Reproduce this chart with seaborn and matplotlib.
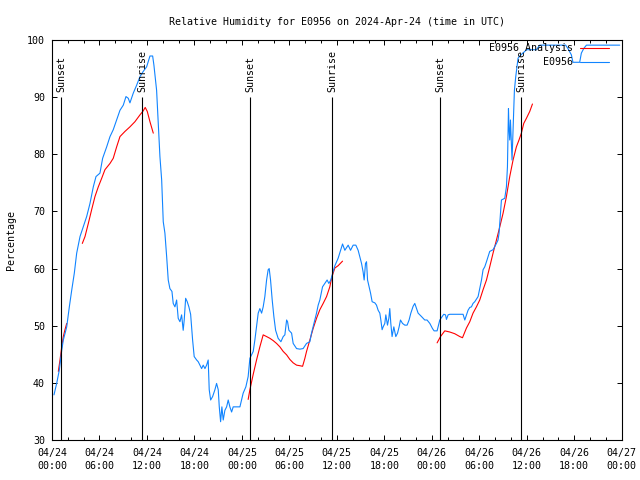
import pandas as pd
import matplotlib
matplotlib.use('Agg')
import matplotlib.pyplot as plt
import matplotlib.dates as mdates
from matplotlib.lines import Line2D
import seaborn as sns

START = pd.Timestamp('2024-04-24 00:00')
BLUE = '#1084ff'

# --- station observations (hours after 04/24 00:00 UTC, % RH) ---
obs_hours = [
    0.25, 0.59, 0.92, 1.23, 1.43, 1.86, 2.19, 2.49, 2.82, 3.12,
    3.54, 3.95, 4.38, 4.80, 5.22, 5.56, 6.06, 6.40, 6.91, 7.33,
    7.74, 8.17, 8.59, 9.01, 9.35, 9.64, 9.85, 10.27, 10.70, 11.12,
    11.53, 11.96, 12.38, 12.72, 12.88, 13.22, 13.43, 13.64, 13.86, 14.06,
    14.27, 14.49, 14.69, 14.90, 15.16, 15.32, 15.54, 15.75, 15.95, 16.17,
    16.38, 16.58, 16.71, 16.89, 17.09, 17.30, 17.52, 17.77, 17.97, 18.28,
    18.48, 18.69, 18.91, 19.11, 19.33, 19.54, 19.74, 19.87, 20.05, 20.30,
    20.59, 20.80, 21.01, 21.14, 21.31, 21.47, 21.64, 21.85, 22.07, 22.27,
    22.48, 22.70, 22.90, 23.75, 23.96, 24.16, 24.50, 24.79, 25.01, 25.43,
    25.64, 25.85, 26.06, 26.27, 26.49, 26.69, 26.90, 27.12, 27.32, 27.45,
    27.62, 27.83, 28.04, 28.26, 28.58, 28.93, 29.22, 29.43, 29.65, 29.77,
    29.94, 30.28, 30.48, 30.91, 31.33, 31.74, 32.17, 32.59, 32.80, 33.00,
    33.43, 33.64, 33.85, 34.19, 34.48, 34.77, 34.99, 35.24, 35.53, 35.75,
    36.16, 36.47, 36.72, 37.01, 37.43, 37.73, 38.06, 38.40, 38.69, 38.90,
    39.12, 39.32, 39.45, 39.62, 39.75, 39.88, 40.08, 40.26, 40.46, 40.80,
    41.01, 41.22, 41.43, 41.56, 41.72, 41.85, 42.06, 42.19, 42.40, 42.57,
    42.69, 42.82, 42.98, 43.20, 43.45, 43.67, 43.87, 44.04, 44.30, 44.59,
    44.88, 45.13, 45.35, 45.64, 45.85, 46.07, 46.27, 46.70, 47.11, 47.40,
    47.75, 48.09, 48.29, 48.67, 48.79, 49.01, 49.30, 49.51, 49.73, 49.85,
    50.06, 50.27, 51.95, 52.17, 52.38, 52.58, 52.80, 53.01, 53.21, 53.43,
    53.85, 54.06, 54.28, 54.48, 54.69, 54.91, 55.11, 55.32, 55.74, 56.17,
    56.37, 56.50, 56.68, 56.80, 57.22, 57.43, 57.56, 57.64, 57.69, 57.76,
    57.85, 57.94, 58.07, 58.14, 58.27, 58.36, 58.44, 58.61, 58.77, 58.90,
    59.11, 59.75, 59.96, 61.22, 61.64, 64.92, 65.21, 65.64, 65.84, 66.69,
    66.90, 67.20, 67.54, 71.75,
]
obs_rh = [
    37.9, 39.9, 42.2, 45.7, 47.5, 49.8, 53.3, 56.2, 59.2, 62.7,
    65.6, 67.3, 69.1, 71.4, 74.3, 76.1, 76.7, 79.3, 81.3, 83.1,
    84.3, 86.0, 87.7, 88.6, 90.1, 89.8, 89.0, 90.7, 92.1, 93.6,
    94.5, 95.3, 97.2, 97.2, 95.6, 91.2, 85.4, 79.6, 75.5, 68.2,
    66.2, 62.1, 58.0, 56.5, 56.0, 53.9, 53.3, 54.5, 51.3, 50.7,
    51.9, 49.2, 51.0, 54.8, 54.2, 53.3, 52.0, 47.5, 44.6, 44.0,
    43.7, 43.1, 42.5, 43.1, 42.5, 43.1, 44.0, 38.8, 37.0, 37.6,
    38.8, 39.9, 38.8, 35.8, 33.2, 35.8, 33.5, 35.2, 35.8, 37.0,
    35.8, 34.9, 35.8, 35.8, 37.0, 38.2, 39.3, 41.1, 44.3, 45.5,
    47.5, 49.8, 52.2, 53.0, 52.2, 53.3, 55.1, 58.0, 59.8, 60.0,
    58.0, 54.5, 51.6, 49.2, 47.8, 47.2, 48.1, 48.4, 51.0, 50.7,
    49.2, 48.7, 46.9, 46.0, 45.9, 46.0, 46.9, 47.2, 48.7, 49.8,
    52.2, 53.6, 54.5, 56.8, 57.4, 58.0, 57.4, 58.0, 59.5, 60.5,
    61.8, 63.2, 64.3, 63.2, 64.1, 63.2, 64.1, 64.1, 63.2, 62.1,
    60.9, 59.4, 58.0, 60.9, 61.2, 58.0, 56.8, 55.7, 54.2, 54.0,
    53.6, 52.7, 52.2, 51.0, 49.3, 49.8, 50.4, 51.9, 50.1, 51.3,
    53.0, 50.4, 48.1, 49.8, 48.1, 48.7, 49.8, 51.0, 50.4, 50.1,
    50.1, 51.0, 52.2, 53.4, 53.9, 53.0, 52.2, 51.6, 51.0, 51.0,
    50.4, 49.5, 49.1, 49.1, 49.8, 51.0, 51.6, 52.0, 51.9, 51.1,
    51.9, 52.0, 52.0, 51.0, 51.9, 52.7, 53.2, 53.3, 53.9, 54.2,
    55.1, 56.5, 58.0, 59.8, 60.3, 61.2, 62.1, 63.0, 63.3, 64.4,
    65.0, 66.2, 69.7, 72.0, 72.3, 74.3, 77.8, 83.7, 88.0, 84.5,
    82.5, 86.0, 81.3, 79.0, 84.3, 87.7, 91.2, 93.6, 95.3, 96.8,
    97.2, 98.0, 98.3, 98.3, 99.1, 99.1, 98.5, 97.4, 96.1, 96.1,
    97.7, 98.5, 99.1, 99.1,
]

# --- analysis values, four separate pieces ---
ana1_hours = [0.80, 1.01, 1.23, 1.43, 1.64, 1.86]
ana1_rh = [42.0, 44.0, 46.3, 48.1, 49.3, 50.4]

ana2_hours = [3.83, 4.17, 4.59, 5.01, 5.43, 5.85, 6.28, 6.69, 7.33, 7.74, 8.17,
              8.59, 9.22, 9.85, 10.48, 11.12, 11.53, 11.78, 12.04, 12.38, 12.80]
ana2_rh = [64.4, 65.6, 67.9, 70.3, 72.6, 74.3, 75.8, 77.3, 78.4, 79.3, 81.3,
           83.1, 84.0, 84.8, 85.7, 86.9, 87.6, 88.2, 87.5, 85.7, 83.7]

ana3_hours = [24.79, 25.01, 25.43, 25.85, 26.27, 26.69, 27.12, 27.53, 27.95, 28.38,
              28.80, 29.22, 29.65, 30.06, 30.48, 30.91, 31.33, 31.67, 31.96, 32.17,
              32.59, 33.00, 33.43, 33.85, 34.27, 34.70, 35.11, 35.33, 35.53, 35.75,
              36.16, 36.72]
ana3_rh = [37.1, 38.8, 41.5, 44.0, 46.3, 48.4, 48.1, 47.8, 47.4, 46.9,
           46.3, 45.5, 44.9, 44.1, 43.5, 43.1, 43.0, 42.9, 44.3, 45.5,
           47.5, 49.5, 51.3, 52.8, 53.9, 55.1, 56.8, 58.3, 59.2, 60.1,
           60.5, 61.3]

ana4_hours = [48.67, 49.10, 49.64, 50.27, 50.90, 51.54, 51.88, 52.38, 52.80, 53.21,
              53.64, 54.06, 54.48, 54.91, 55.32, 55.74, 56.17, 56.59, 57.01, 57.43,
              57.85, 58.27, 58.69, 59.02, 59.32, 59.62, 59.96, 60.38, 60.72]
ana4_rh = [47.0, 48.1, 49.1, 48.9, 48.6, 48.1, 47.9, 49.6, 50.7, 52.2,
           53.3, 54.5, 56.3, 58.0, 60.3, 62.7, 65.0, 67.3, 69.7, 72.6,
           76.1, 79.0, 81.3, 82.5, 83.7, 85.4, 86.3, 87.5, 88.8]

# --- sun events ---
sun_hours = [1.15, 11.40, 25.05, 35.40, 49.08, 59.28]
sun_labels = ['Sunset', 'Sunrise', 'Sunset', 'Sunrise', 'Sunset', 'Sunrise']


def to_time(hours):
    return START + pd.to_timedelta(hours, unit='h')


obs = pd.DataFrame({'time': to_time(obs_hours), 'rh': obs_rh})

pieces = [(ana1_hours, ana1_rh), (ana2_hours, ana2_rh),
          (ana3_hours, ana3_rh), (ana4_hours, ana4_rh)]
ana = pd.concat(
    [pd.DataFrame({'time': to_time(h), 'rh': v, 'seg': i})
     for i, (h, v) in enumerate(pieces)],
    ignore_index=True
)

sns.set_theme(style='ticks', rc={
    'axes.edgecolor': 'black',
    'axes.linewidth': 0.8,
    'text.color': 'black',
    'axes.labelcolor': 'black',
    'xtick.color': 'black',
    'ytick.color': 'black',
})
plt.rcParams['font.family'] = ['DejaVu Sans Mono']
plt.rcParams['font.size'] = 7.2

fig = plt.figure(figsize=(6.4, 4.8), dpi=100)
ax = fig.add_axes([52 / 640, 40 / 480, 569.7 / 640, 400 / 480])

sns.lineplot(data=ana, x='time', y='rh', units='seg', estimator=None,
             color='red', linewidth=0.8, ax=ax, legend=False)
sns.lineplot(data=obs, x='time', y='rh', estimator=None, color=BLUE,
             linewidth=0.8, ax=ax, legend=False)

# sunrise / sunset markers
sun_times = to_time(sun_hours)
ax.vlines(sun_times, 30, 90, colors='black', linewidth=0.8)
for t, lab in zip(sun_times, sun_labels):
    ax.text(t, 90.9, lab, rotation=90, ha='center', va='bottom', fontsize=7.2)

ax.set_xlim(START, START + pd.Timedelta(hours=72))
ax.set_ylim(30, 100)
ax.set_yticks(range(30, 101, 10))
ax.xaxis.set_major_locator(mdates.HourLocator(byhour=[0, 6, 12, 18]))
ax.xaxis.set_major_formatter(mdates.DateFormatter('%m/%d\n%H:%M'))
ax.xaxis.set_minor_locator(mdates.HourLocator(byhour=range(0, 24, 2)))
ax.tick_params(which='both', direction='in', top=True, right=True,
               bottom=True, left=True, width=0.7, labelsize=7.2)
ax.tick_params(which='major', length=3.4)
ax.tick_params(which='minor', length=2.0)
ax.tick_params(axis='x', which='major', pad=5.5)
ax.tick_params(axis='y', which='major', pad=5)

ax.set_xlabel('')
ax.set_ylabel('Percentage', fontsize=7.2)
ax.yaxis.set_label_coords(-0.064, 0.5)
ax.set_title('Relative Humidity for E0956 on 2024-Apr-24 (time in UTC)',
             fontsize=7.2, pad=11)

handles = [Line2D([], [], color='red', linewidth=0.8),
           Line2D([], [], color=BLUE, linewidth=0.8)]
ax.legend(handles, ['E0956 Analysis', 'E0956'], loc='upper right',
          bbox_to_anchor=(1 - 9 / 569.7, 1.0), frameon=False,
          markerfirst=False, handlelength=2.9, handletextpad=0.7,
          labelspacing=0.4, borderpad=0.35, borderaxespad=0, fontsize=7.2)

fig.canvas.draw()
plt.setp(ax.get_xticklabels(), linespacing=1.4)

fig.savefig('out.png', dpi=100)
plt.close(fig)
